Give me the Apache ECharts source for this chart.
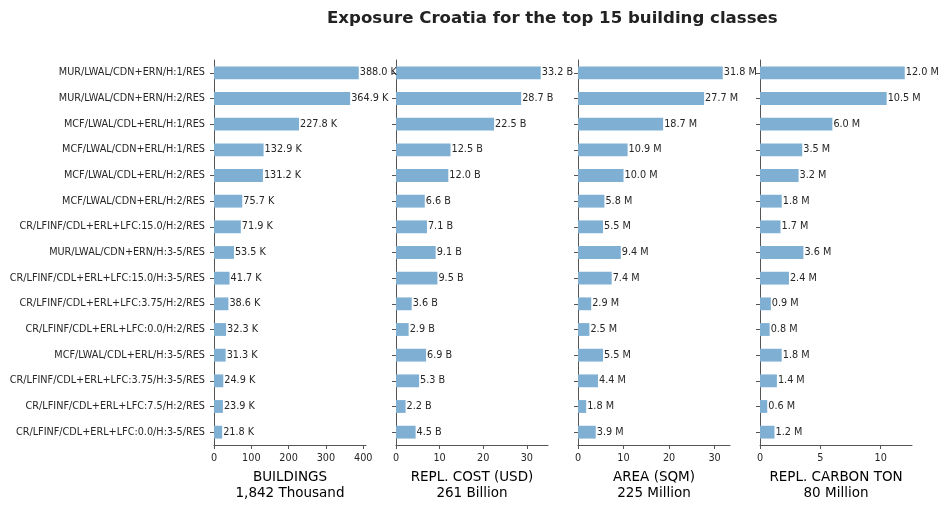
<!DOCTYPE html>
<html>
<head>
<meta charset="utf-8">
<script src="https://cdn.jsdelivr.net/npm/echarts@6/dist/echarts.min.js"></script>
<style>
  html, body { margin: 0; padding: 0; background: #fff; }
  #chart { width: 948px; height: 510px; }
</style>
</head>
<body>
<div id="chart"></div>
<script>
// building classes, top to bottom
var categories = [
    "MUR/LWAL/CDN+ERN/H:1/RES",
    "MUR/LWAL/CDN+ERN/H:2/RES",
    "MCF/LWAL/CDL+ERL/H:1/RES",
    "MCF/LWAL/CDN+ERL/H:1/RES",
    "MCF/LWAL/CDL+ERL/H:2/RES",
    "MCF/LWAL/CDN+ERL/H:2/RES",
    "CR/LFINF/CDL+ERL+LFC:15.0/H:2/RES",
    "MUR/LWAL/CDN+ERN/H:3-5/RES",
    "CR/LFINF/CDL+ERL+LFC:15.0/H:3-5/RES",
    "CR/LFINF/CDL+ERL+LFC:3.75/H:2/RES",
    "CR/LFINF/CDL+ERL+LFC:0.0/H:2/RES",
    "MCF/LWAL/CDL+ERL/H:3-5/RES",
    "CR/LFINF/CDL+ERL+LFC:3.75/H:3-5/RES",
    "CR/LFINF/CDL+ERL+LFC:7.5/H:2/RES",
    "CR/LFINF/CDL+ERL+LFC:0.0/H:3-5/RES"
];
// thousands
var buildings = [388.0, 364.9, 227.8, 132.9, 131.2, 75.7, 71.9, 53.5, 41.7, 38.6, 32.3, 31.3, 24.9, 23.9, 21.8];
// billions USD
var replCost = [33.2, 28.7, 22.5, 12.5, 12.0, 6.6, 7.1, 9.1, 9.5, 3.6, 2.9, 6.9, 5.3, 2.2, 4.5];
// millions sqm
var area = [31.8, 27.7, 18.7, 10.9, 10.0, 5.8, 5.5, 9.4, 7.4, 2.9, 2.5, 5.5, 4.4, 1.8, 3.9];
// millions ton
var carbon = [12.0, 10.5, 6.0, 3.5, 3.2, 1.8, 1.7, 3.6, 2.4, 0.9, 0.8, 1.8, 1.4, 0.6, 1.2];

var panelNames = ["BUILDINGS\n1,842 Thousand", "REPL. COST (USD)\n261 Billion", "AREA (SQM)\n225 Million", "REPL. CARBON TON\n80 Million"];
var panelUnits = ["K", "B", "M", "M"];
var panelTicks = [[0, 100, 200, 300, 400], [0, 10, 20, 30], [0, 10, 20, 30], [0, 5, 10]];
var panelData = [buildings, replCost, area, carbon];

var axisColor = "#555555";
var textColor = "#262626";
var barColor = "#7fb0d4";
var font = "DejaVu Sans";
var small = 9.7;

var chart = echarts.init(document.getElementById("chart"));

var grids = [], xAxes = [], yAxes = [], series = [];
panelData.forEach(function (vals, i) {
    var maxVal = Math.max.apply(null, vals) * 1.05;
    grids.push({ left: 214 + i * 182, top: 60, width: 152, height: 385 });
    xAxes.push({
        gridIndex: i, type: "value", min: 0, max: maxVal,
        name: panelNames[i], nameLocation: "middle", nameGap: 24,
        nameTextStyle: { fontFamily: font, fontSize: 13.5, lineHeight: 16, color: "#000" },
        axisLine: { show: true, lineStyle: { color: axisColor, width: 1 } },
        axisTick: { show: true, length: 4, lineStyle: { color: axisColor }, customValues: panelTicks[i] },
        axisLabel: { fontFamily: font, fontSize: small, color: textColor, margin: 8, customValues: panelTicks[i] },
        splitLine: { show: false }
    });
    yAxes.push({
        gridIndex: i, type: "category", data: categories, inverse: true,
        axisLine: { show: true, lineStyle: { color: axisColor, width: 1 } },
        axisTick: { show: true, length: 4, alignWithLabel: true, lineStyle: { color: axisColor } },
        axisLabel: { show: i === 0, fontFamily: font, fontSize: small, color: textColor, margin: 9 }
    });
    series.push({
        type: "bar", xAxisIndex: i, yAxisIndex: i, data: vals,
        barWidth: "50%", itemStyle: { color: barColor },
        silent: true,
        label: {
            show: true, position: "right", distance: 1,
            fontFamily: font, fontSize: small, color: textColor,
            formatter: function (p) { return p.value.toFixed(1) + " " + panelUnits[i]; }
        }
    });
});

chart.setOption({
    animation: false,
    title: {
        text: "Exposure Croatia for the top 15 building classes",
        left: 322, top: 5,
        textStyle: { fontFamily: font, fontSize: 16.6, fontWeight: "bold", color: "#222" }
    },
    grid: grids,
    xAxis: xAxes,
    yAxis: yAxes,
    series: series
});
</script>
</body>
</html>
